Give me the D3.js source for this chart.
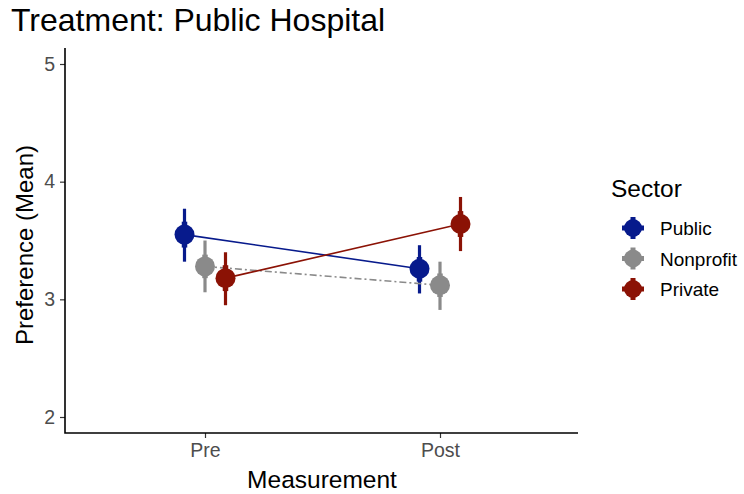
<!DOCTYPE html>
<html>
<head>
<meta charset="utf-8">
<script src="https://cdn.jsdelivr.net/npm/d3@7"></script>
<style>
  body { margin: 0; background: #fff; }
  svg text { font-family: "Liberation Sans", Arial, sans-serif; }
</style>
</head>
<body>
<svg id="chart" width="744" height="494"></svg>
<script>
// data
var measurements = ['Pre', 'Post'];
var sectors = ['Public', 'Nonprofit', 'Private'];
var colors = ['#071a8c', '#8a8a8a', '#8b1205'];
var dashes = [null, '7,3,2,3', null];
var means = [[3.55, 3.26], [3.28, 3.12], [3.18, 3.64]];
var ciLow = [[3.32, 3.05], [3.06, 2.91], [2.95, 3.41]];
var ciHigh = [[3.77, 3.46], [3.50, 3.32], [3.40, 3.87]];
var seLow = [[3.44, 3.15], [3.18, 3.02], [3.07, 3.53]];
var seHigh = [[3.66, 3.36], [3.38, 3.22], [3.29, 3.75]];
var yTicks = [2, 3, 4, 5];

var svg = d3.select('#chart');
var padL = 65, padR = 578, padT = 48, padB = 433;

var x = d3.scalePoint().domain(measurements).range([205, 440]);
var dodge = d3.scalePoint().domain(sectors).range([-20.5, 20.5]);
var y = d3.scaleLinear().domain([2, 5]).range([417, 64]);

svg.append('text').attr('x', 11).attr('y', 31).attr('font-size', 32).attr('fill', '#000')
  .text('Treatment: Public Hospital');

// axes
var yAxis = svg.append('g').attr('transform', 'translate(' + padL + ',0)')
  .call(d3.axisLeft(y).tickValues(yTicks).tickSize(5).tickPadding(5).tickFormat(d3.format('d')));
var xAxis = svg.append('g').attr('transform', 'translate(0,' + padB + ')')
  .call(d3.axisBottom(x).tickSize(5).tickPadding(5));
[yAxis, xAxis].forEach(function(g) {
  g.select('.domain').remove();
  g.selectAll('.tick line').attr('stroke', '#333').attr('stroke-width', 1.2);
  g.selectAll('.tick text').attr('fill', '#4d4d4d').attr('font-size', 19.5);
});
svg.append('path').attr('d', 'M' + padL + ',' + padT + 'V' + padB + 'H' + padR)
  .attr('fill', 'none').attr('stroke', '#000').attr('stroke-width', 1.6);

svg.append('text').attr('x', 322).attr('y', 488).attr('text-anchor', 'middle')
  .attr('font-size', 24.5).text('Measurement');
svg.append('text').attr('transform', 'translate(33,245) rotate(-90)')
  .attr('text-anchor', 'middle').attr('font-size', 24).text('Preference (Mean)');

// series
sectors.forEach(function(s, i) {
  var g = svg.append('g');
  var px = function(j) { return x(measurements[j]) + dodge(s); };
  g.append('path')
    .attr('d', d3.line().x(function(d, j) { return px(j); }).y(function(d) { return y(d); })(means[i]))
    .attr('fill', 'none').attr('stroke', colors[i]).attr('stroke-width', 1.6)
    .attr('stroke-dasharray', dashes[i]);
  measurements.forEach(function(m, j) {
    g.append('line').attr('x1', px(j)).attr('x2', px(j))
      .attr('y1', y(ciLow[i][j])).attr('y2', y(ciHigh[i][j]))
      .attr('stroke', colors[i]).attr('stroke-width', 3.2);
    g.append('line').attr('x1', px(j)).attr('x2', px(j))
      .attr('y1', y(seLow[i][j])).attr('y2', y(seHigh[i][j]))
      .attr('stroke', colors[i]).attr('stroke-width', 5.5);
    g.append('circle').attr('cx', px(j)).attr('cy', y(means[i][j])).attr('r', 10)
      .attr('fill', colors[i]);
  });
});

// legend
var legend = svg.append('g');
legend.append('text').attr('x', 611).attr('y', 197).attr('font-size', 24.5).text('Sector');
sectors.forEach(function(s, i) {
  var ly = 228 + i * 30.5, lx = 633;
  legend.append('line').attr('x1', lx - 11).attr('x2', lx + 11).attr('y1', ly).attr('y2', ly)
    .attr('stroke', colors[i]).attr('stroke-width', 5);
  legend.append('line').attr('x1', lx).attr('x2', lx).attr('y1', ly - 11).attr('y2', ly + 11)
    .attr('stroke', colors[i]).attr('stroke-width', 5);
  legend.append('circle').attr('cx', lx).attr('cy', ly).attr('r', 9).attr('fill', colors[i]);
  legend.append('text').attr('x', 660).attr('y', ly + 7).attr('font-size', 19).text(s);
});
</script>
</body>
</html>
